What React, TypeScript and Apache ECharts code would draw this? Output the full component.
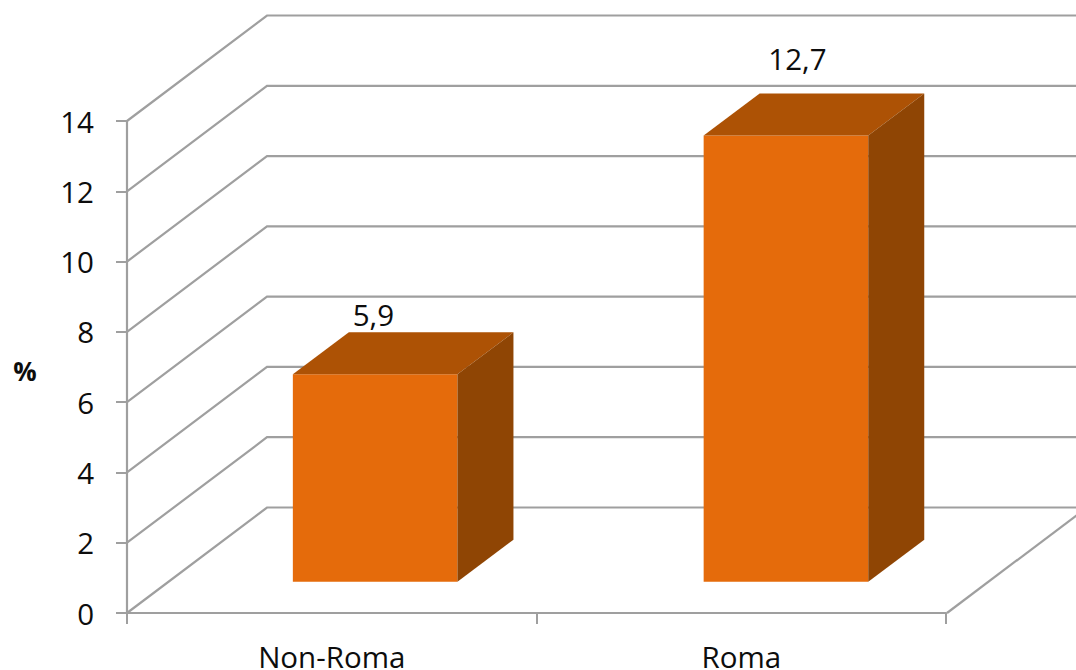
import React, { useEffect, useRef } from "react";
import * as echarts from "echarts";

const categories = ["Non-Roma", "Roma"];
const values = [5.9, 12.7];
const yTicks = [0, 2, 4, 6, 8, 10, 12, 14];

const labelOffsets = [
  [41.6, -59.5],
  [56.2, -77],
];
const barNudges = [0, 1.3];

const FONT = "'Open Sans', 'Noto Sans', sans-serif";
const TEXT = "#0d0d0d";
const GRID = "#9f9f9f";
const FRONT = "#e56b0b";
const TOP = "#ad5205";
const SIDE = "#8f4504";
const WALL_DX = 140;
const WALL_DY = -105.5;
const BAR_W = 164.6;
const BAR_DX = 56;
const BAR_DY = -42;
const FLOOR_DX = 43.4;
const FLOOR_DY = -31.3;
const FS = 29.5;

export default function App() {
  const ref = useRef<HTMLDivElement>(null);
  useEffect(() => {
    const chart = echarts.init(ref.current!, null, { renderer: "svg" });
    chart.setOption({
      animation: false,
      backgroundColor: "#ffffff",
      grid: { left: 127, right: 130, top: 121, bottom: 57, containLabel: false, outerBoundsMode: "none" },
      xAxis: {
        type: "category",
        data: categories,
        boundaryGap: true,
        axisLine: { show: true, lineStyle: { color: GRID, width: 2.2 } },
        axisTick: { show: true, alignWithLabel: false, length: 11, lineStyle: { color: GRID, width: 2 } },
        axisLabel: { color: TEXT, fontFamily: FONT, fontSize: FS, margin: 28, lineHeight: 30 },
      },
      yAxis: {
        type: "value",
        min: 0,
        max: 14,
        interval: 2,
        axisLine: { show: true, lineStyle: { color: GRID, width: 2.2 } },
        axisTick: { show: true, length: 11, lineStyle: { color: GRID, width: 2 } },
        axisLabel: { color: TEXT, fontFamily: FONT, fontSize: FS, margin: 33 },
        splitLine: { show: false },
      },
      graphic: [
        {
          type: "text",
          x: 25,
          y: 371,
          z: 10,
          style: {
            text: "%",
            fill: TEXT,
            font: `bold 26px ${FONT}`,
            align: "center",
            verticalAlign: "middle",
          },
        },
      ],
      series: [
        {
          type: "custom",
          silent: true,
          z: 1,
          data: yTicks.map((v) => [0, v]),
          encode: { x: 0, y: 1 },
          renderItem: (params: any, api: any) => {
            const cs = params.coordSys;
            const left = cs.x;
            const right = cs.x + cs.width;
            const v = api.value(1);
            const y = api.coord([0, v])[1];
            const bx = left + WALL_DX;
            const by = y + WALL_DY;
            const style = { stroke: GRID, lineWidth: 2.2, fill: "none" };
            const children: any[] = [
              {
                type: "polyline",
                shape: { points: [[left, y], [bx, by], [1090, by]] },
                style,
              },
            ];
            if (v === 0) {
              children.push({
                type: "line",
                shape: { x1: right + 1, y1: y, x2: right + 1 + WALL_DX, y2: by },
                style,
              });
            }
            return { type: "group", children };
          },
        },
        {
          type: "custom",
          silent: true,
          z: 2,
          data: values.map((v, i) => [i, v]),
          encode: { x: 0, y: 1 },
          renderItem: (params: any, api: any) => {
            const i = api.value(0);
            const v = api.value(1);
            const top = api.coord([i, v]);
            const base = api.coord([i, 0]);
            const x0 = top[0] + FLOOR_DX + barNudges[i] - BAR_W / 2;
            const x1 = x0 + BAR_W;
            const yT = top[1] + FLOOR_DY;
            const yB = base[1] + FLOOR_DY;
            const off = labelOffsets[i];
            return {
              type: "group",
              children: [
                {
                  type: "polygon",
                  shape: { points: [[x0, yT], [x1, yT], [x1, yB], [x0, yB]] },
                  style: { fill: FRONT },
                },
                {
                  type: "polygon",
                  shape: { points: [[x0, yT], [x0 + BAR_DX, yT + BAR_DY], [x1 + BAR_DX, yT + BAR_DY], [x1, yT]] },
                  style: { fill: TOP },
                },
                {
                  type: "polygon",
                  shape: { points: [[x1, yT], [x1 + BAR_DX, yT + BAR_DY], [x1 + BAR_DX, yB + BAR_DY], [x1, yB]] },
                  style: { fill: SIDE },
                },
                {
                  type: "text",
                  style: {
                    text: String(v).replace(".", ","),
                    x: top[0] + off[0],
                    y: yT + off[1],
                    fill: TEXT,
                    font: `${FS}px ${FONT}`,
                    align: "center",
                    verticalAlign: "middle",
                  },
                },
              ],
            };
          },
        },
      ],
    });
    return () => chart.dispose();
  }, []);
  return (
    <div
      ref={ref}
      style={{ position: "absolute", left: 0, top: 0, width: 1076, height: 670 }}
    />
  );
}
